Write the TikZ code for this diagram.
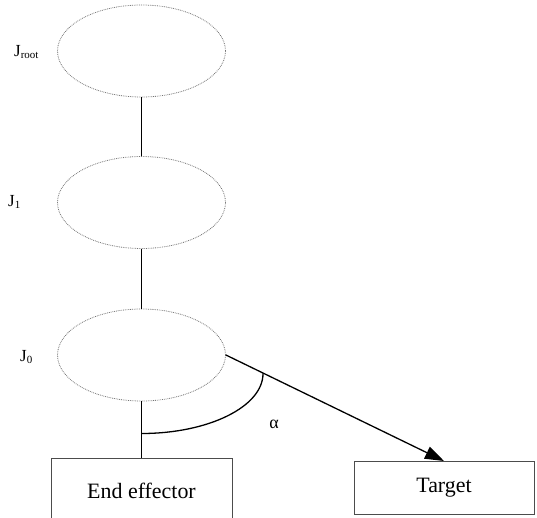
\documentclass[tikz,border=0pt]{standalone}
\usepackage{fontspec}
\setmainfont{Liberation Serif}
\usetikzlibrary{shapes.geometric,arrows.meta}
\tikzset{
  joint/.style={ellipse, draw=black!55, densely dotted, line width=0.8pt, minimum width=168bp, minimum height=92bp, inner sep=0pt},
  link/.style={draw=black, line width=1.3pt},
  boxnode/.style={rectangle, draw=black!70, line width=0.8pt, inner sep=0pt, font=\fontsize{22}{26}\selectfont},
  jlabel/.style={anchor=west, inner sep=0pt, font=\fontsize{17}{20}\selectfont},
}
\newcommand{\jsub}[1]{\raisebox{-0.35ex}{\fontsize{11}{12}\selectfont #1}}
\begin{document}
\begin{tikzpicture}[x=1bp,y=-1bp]
\useasboundingbox (0,0) rectangle (537,518);
\begin{scope}
\clip (0,0) rectangle (537,518);
\node[joint] (jr) at (141.5,51) {};
\node[joint] (j1) at (141.5,202.5) {};
\node[joint] (j0) at (141.5,355) {};
\node[boxnode, anchor=north, minimum width=181bp, minimum height=64bp] (ee) at (141.5,458) {End effector};
\node[boxnode, anchor=north, minimum width=180bp, minimum height=53bp] (tg) at (444,461) {Target};
\node[jlabel] (lr) at (14,52) {J\jsub{root}};
\node[jlabel] (l1) at (8,202) {J\jsub{1}};
\node[jlabel] (l0) at (20,357) {J\jsub{0}};
\draw[link] (jr.south) -- (j1.north);
\draw[link] (j1.south) -- (j0.north);
\draw[link] (j0.south) -- (ee.north);
\draw[link, -{Triangle[length=19bp,width=13bp]}] (j0.east) -- (tg.north);
\coordinate (ak) at (141.5,433.5);
\draw[line width=1.3pt] (ak) arc[start angle=270, end angle=360, x radius=121.5bp, y radius=60bp];
\node[inner sep=0pt, font=\fontsize{18}{20}\selectfont] (al) at (274,424) {α};
\end{scope}
\end{tikzpicture}
\end{document}
